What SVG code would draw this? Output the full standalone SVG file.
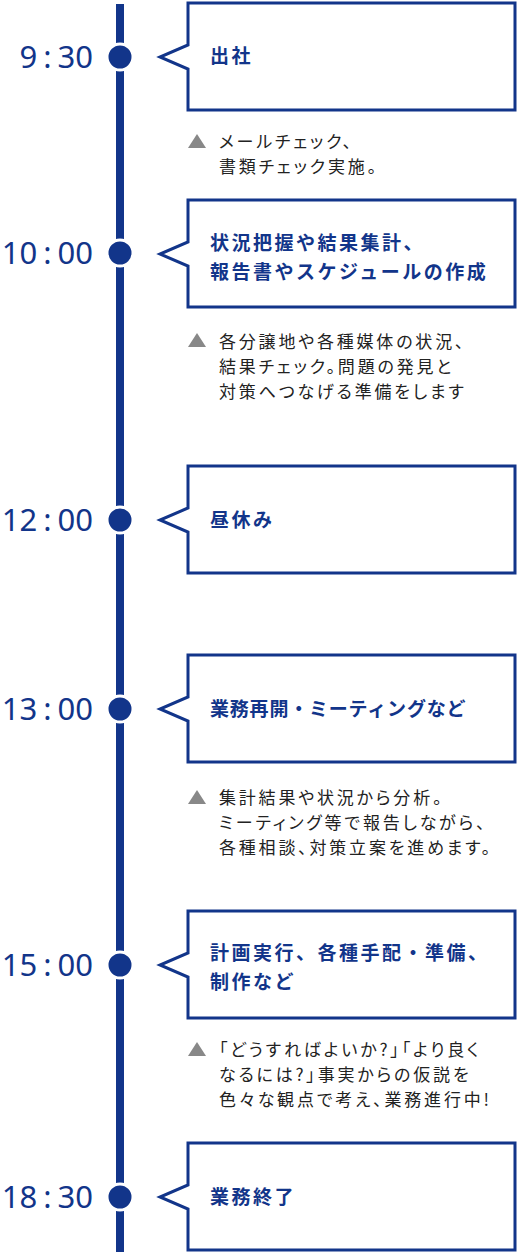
<svg xmlns="http://www.w3.org/2000/svg" width="518" height="1256" viewBox="0 0 518 1256">
<style>
.box{fill:#fff;stroke:#12358a;stroke-width:3}
.dot{fill:#12358a;stroke:#fff;stroke-width:3}
.time{font-family:"Noto Sans","Noto Sans CJK JP",sans-serif;font-size:31px;font-weight:400;fill:#12358a;text-anchor:end}
.title{font-family:"Noto Sans CJK JP",sans-serif;font-size:19px;font-weight:700;fill:#12358a;letter-spacing:2.5px}
.note{font-family:"Noto Sans CJK JP",sans-serif;font-size:17px;fill:#222;letter-spacing:2.8px;font-feature-settings:"palt"}
.tri{fill:#888}
</style>
<g id="connectors">
<line x1="120" y1="4" x2="120" y2="1252" stroke="#12358a" stroke-width="8"/>
</g>
<g id="n930">
<circle class="dot" cx="120" cy="57" r="13"/>
<text class="time" x="93" y="68">9<tspan dx="6">:</tspan><tspan dx="6">30</tspan></text>
<path class="box" d="M188,3 H515 V110 H188 V69 L160,57 L188,45 Z"/>
<text class="title" x="210" y="63">出社</text>
</g>
<g id="note1">
<polygon class="tri" points="188,148 206,148 197,134"/>
<text class="note"><tspan x="219" y="148">メールチェック、</tspan><tspan x="219" y="173">書類チェック実施。</tspan></text>
</g>
<g id="n1000">
<circle class="dot" cx="120" cy="253" r="13"/>
<text class="time" x="93" y="264">10<tspan dx="6">:</tspan><tspan dx="6">00</tspan></text>
<path class="box" d="M188,200 H515 V307 H188 V266 L160,254 L188,242 Z"/>
<text class="title"><tspan x="210" y="250">状況把握や結果集計、</tspan><tspan x="210" y="279">報告書やスケジュールの作成</tspan></text>
</g>
<g id="note2">
<polygon class="tri" points="188,347 206,347 197,333"/>
<text class="note"><tspan x="219" y="348">各分譲地や各種媒体の状況、</tspan><tspan x="219" y="373">結果チェック。問題の発見と</tspan><tspan x="219" y="398">対策へつなげる準備をします</tspan></text>
</g>
<g id="n1200">
<circle class="dot" cx="120" cy="520" r="13"/>
<text class="time" x="93" y="531">12<tspan dx="6">:</tspan><tspan dx="6">00</tspan></text>
<path class="box" d="M188,466 H515 V573 H188 V532 L160,520 L188,508 Z"/>
<text class="title" x="210" y="527">昼休み</text>
</g>
<g id="n1300">
<circle class="dot" cx="120" cy="709" r="13"/>
<text class="time" x="93" y="720">13<tspan dx="6">:</tspan><tspan dx="6">00</tspan></text>
<path class="box" d="M188,655 H515 V762 H188 V721 L160,709 L188,697 Z"/>
<text class="title" x="210" y="716" textLength="258" lengthAdjust="spacing">業務再開・ミーティングなど</text>
</g>
<g id="note4">
<polygon class="tri" points="188,804 206,804 197,790"/>
<text class="note"><tspan x="219" y="804">集計結果や状況から分析。</tspan><tspan x="219" y="829">ミーティング等で報告しながら、</tspan><tspan x="219" y="854">各種相談、対策立案を進めます。</tspan></text>
</g>
<g id="n1500">
<circle class="dot" cx="120" cy="965" r="13"/>
<text class="time" x="93" y="976">15<tspan dx="6">:</tspan><tspan dx="6">00</tspan></text>
<path class="box" d="M188,911 H515 V1018 H188 V977 L160,965 L188,953 Z"/>
<text class="title"><tspan x="210" y="960">計画実行、各種手配・準備、</tspan><tspan x="210" y="989">制作など</tspan></text>
</g>
<g id="note5">
<polygon class="tri" points="188,1056 206,1056 197,1042"/>
<text class="note"><tspan x="219" y="1056">「どうすればよいか?」「より良く</tspan><tspan x="219" y="1081">なるには?」事実からの仮説を</tspan><tspan x="219" y="1106">色々な観点で考え、業務進行中!</tspan></text>
</g>
<g id="n1830">
<circle class="dot" cx="120" cy="1197" r="13"/>
<text class="time" x="93" y="1208">18<tspan dx="6">:</tspan><tspan dx="6">30</tspan></text>
<path class="box" d="M188,1143 H515 V1250 H188 V1209 L160,1197 L188,1185 Z"/>
<text class="title" x="210" y="1204">業務終了</text>
</g>
</svg>
